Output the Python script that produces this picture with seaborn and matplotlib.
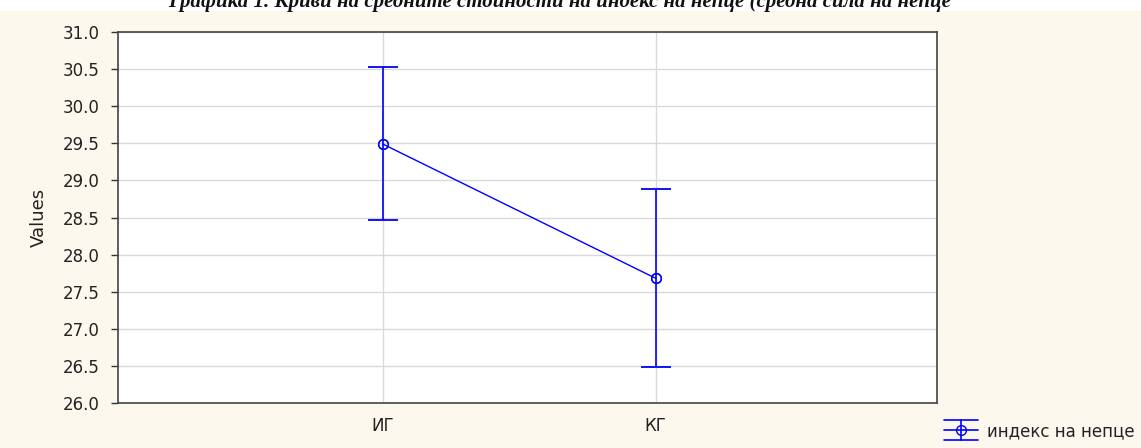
import matplotlib
matplotlib.use("Agg")
import matplotlib.pyplot as plt
import pandas as pd
import seaborn as sns
from matplotlib.legend_handler import HandlerBase
from matplotlib.lines import Line2D

# values
groups = ["ИГ", "КГ"]
means = [29.49, 27.68]
upper = [30.53, 28.89]
lower = [28.47, 26.49]
y_ticks = [26.0, 26.5, 27.0, 27.5, 28.0, 28.5, 29.0, 29.5, 30.0, 30.5, 31.0]
series_name = "индекс на непце"
title = "Графика 1. Криви на средните стойности на индекс на непце (средна сила на непце"

sns.set_theme(style="white")
plt.rcParams["font.family"] = ["DejaVu Sans"]

BLUE = "#0000ff"
BG = "#fdf8ee"
TXT = "#222222"


class MeanWhiskerHandler(HandlerBase):
    """Legend key: line through a circle, with full-width caps above and below."""
    def create_artists(self, legend, orig_handle, xdescent, ydescent, width, height,
                       fontsize, trans):
        cx = width / 2 - xdescent
        cy = height / 2 - ydescent
        h = 7.2
        kw = dict(color=BLUE, lw=1.2, transform=trans)
        arts = [
            Line2D([-xdescent, width - xdescent], [cy, cy], **kw),
            Line2D([-xdescent, width - xdescent], [cy + h, cy + h], **kw),
            Line2D([-xdescent, width - xdescent], [cy - h, cy - h], **kw),
            Line2D([cx, cx], [cy - h, cy + h], **kw),
            Line2D([cx], [cy], marker="o", ms=7, mfc="none", mec=BLUE, mew=1,
                   transform=trans),
        ]
        return arts


df = pd.DataFrame({"group": groups, "pos": range(len(groups)), "mean": means})

fig = plt.figure(figsize=(11.41, 4.48), dpi=100)
fig.patch.set_facecolor(BG)
# white strip above the chart
fig.add_artist(plt.Rectangle((0, 1 - 11 / 448), 1, 11 / 448, transform=fig.transFigure,
                             facecolor="white", edgecolor="none", zorder=0))
ax = fig.add_axes([118 / 1141, 1 - 403 / 448, (937 - 118) / 1141, (403 - 32) / 448])
ax.set_facecolor("white")

sns.lineplot(data=df, x="pos", y="mean", color=BLUE, lw=1, marker="o", ms=7,
             mfc="none", mec=BLUE, mew=1, ax=ax, zorder=3)
err_lo = [m - l for m, l in zip(means, lower)]
err_hi = [u - m for m, u in zip(means, upper)]
eb = ax.errorbar(df["pos"], df["mean"], yerr=[err_lo, err_hi], fmt="o", color=BLUE,
                 ms=7, mfc="none", mec=BLUE, capsize=10.5, capthick=1.3, elinewidth=1.2,
                 zorder=4)

ax.set_xlim(-0.97, 2.03)
ax.set_ylim(26, 31)
ax.set_xticks(list(df["pos"]))
ax.set_xticklabels(groups)
ax.set_yticks(y_ticks)
ax.set_yticklabels([f"{v:.1f}" for v in y_ticks])
ax.grid(True, color="#d9d9d9", lw=1)
ax.set_axisbelow(True)
ax.tick_params(axis="y", direction="out", length=5, width=1, color="#333333",
               left=True, labelsize=12, pad=8, labelcolor=TXT)
ax.tick_params(axis="x", length=0, labelsize=12, pad=10, labelcolor=TXT)
for s in ax.spines.values():
    s.set_color("#444444")
    s.set_linewidth(1.2)
ax.set_xlabel("")
ax.set_ylabel("Values", fontsize=13, color=TXT, labelpad=11)

fig.text(168 / 1141, 1 - 2 / 448, title, fontsize=15, fontweight="bold", style="italic",
         family=["Liberation Serif", "DejaVu Serif"], va="center", ha="left", color="#111111")

fig.legend([eb], [series_name], loc="center left",
           bbox_to_anchor=(944 / 1141, 1 - 431 / 448), borderpad=0, borderaxespad=0,
           frameon=False, fontsize=12, handlelength=2.05, handletextpad=0.55,
           labelcolor=TXT, handler_map={type(eb): MeanWhiskerHandler()})

fig.savefig("out.png", dpi=100, facecolor=fig.get_facecolor())
